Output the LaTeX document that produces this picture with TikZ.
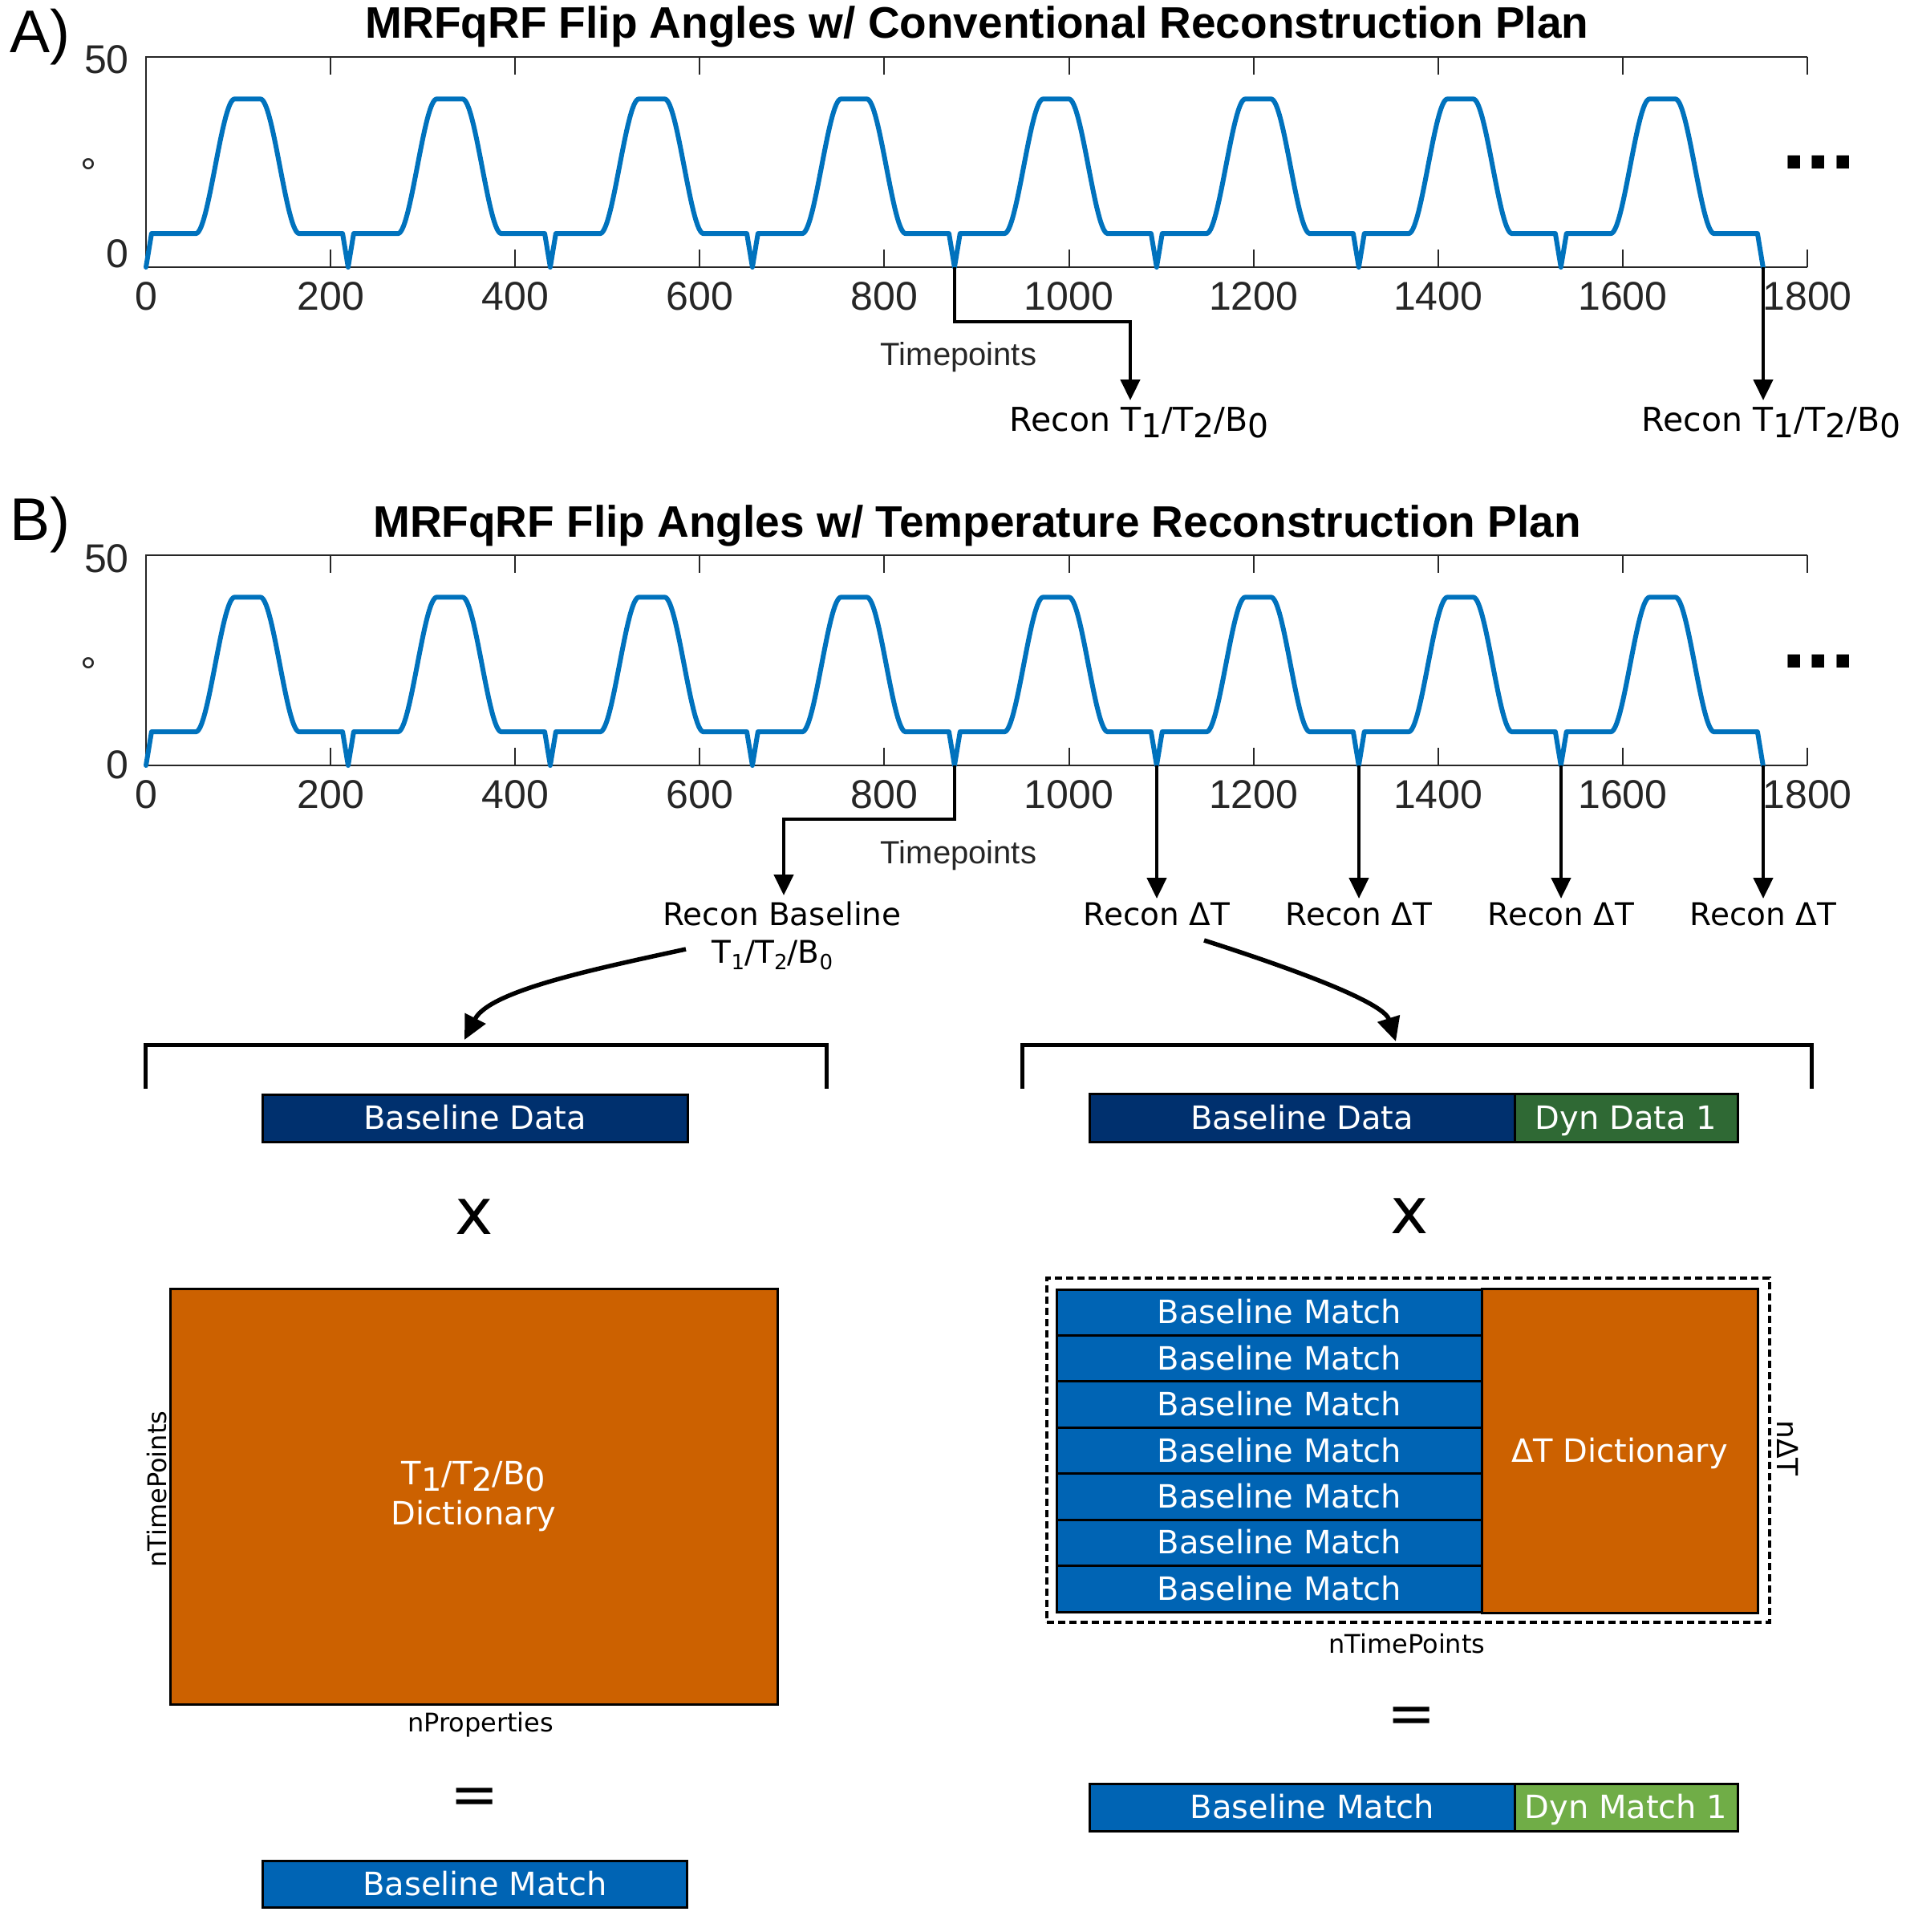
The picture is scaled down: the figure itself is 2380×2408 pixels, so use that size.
\documentclass[tikz,border=0pt]{standalone}
\usepackage{fontspec}
\usetikzlibrary{arrows.meta,calc}
\newfontfamily\matf{Liberation Sans}
\newfontfamily\verf{DejaVu Sans}
\definecolor{wblue}{HTML}{0072BD}
\definecolor{axgray}{HTML}{262626}
\definecolor{navyfill}{HTML}{00306E}
\definecolor{dgreenfill}{HTML}{2F6934}
\definecolor{lgreenfill}{HTML}{70AD47}
\definecolor{mbluefill}{HTML}{0064B4}
\definecolor{orangefill}{HTML}{CC6100}
\newcommand\lowsub[1]{\raisebox{-8pt}{#1}}
\newcommand\smallsub[1]{\raisebox{-8pt}{\fontsize{26}{26}\selectfont #1}}
\tikzset{
  declare function={sst(\x)=3*\x*\x-2*\x*\x*\x;
    wf(\u)=(\u<6)?(8*\u/6):((\u<54)?8:((\u<96)?(8+32*sst((\u-54)/42)):((\u<124)?40:((\u<166)?(40-32*sst((\u-124)/42)):((\u<213)?8:(8*(219-\u)/6))))));},
  axline/.style={draw=axgray, line width=2.5pt},
  axtick/.style={draw=axgray, line width=2pt},
  ticklab/.style={font=\matf\fontsize{50}{50}\selectfont, text=axgray, inner sep=0pt},
  titlef/.style={font=\matf\bfseries\fontsize{55}{55}\selectfont, inner sep=0pt},
  panlab/.style={font=\matf\fontsize{75}{75}\selectfont, inner sep=0pt},
  dotsf/.style={font=\matf\bfseries\fontsize{110}{110}\selectfont, inner sep=0pt},
  tplab/.style={font=\matf\fontsize{40}{40}\selectfont, text=axgray, inner sep=0pt},
  wave/.style={draw=wblue, line width=6pt, line join=round, line cap=round},
  conn/.style={draw=black, line width=4.5pt, -{Triangle[length=26pt,width=24pt]}},
  carrow/.style={draw=black, line width=5.5pt, -{Triangle[length=30pt,width=28pt]}},
  bracketline/.style={draw=black, line width=5pt},
  reconA/.style={font=\verf\fontsize{41}{41}\selectfont, inner sep=0pt, anchor=base},
  reconB/.style={font=\verf\fontsize{39}{39}\selectfont, inner sep=0pt, anchor=base},
  cell/.style={draw=black, line width=3pt, inner sep=0pt, text=white,
    font=\verf\fontsize{40}{48}\selectfont, text height=28pt, text depth=0pt},
  dimlab/.style={font=\verf\fontsize{32}{32}\selectfont, inner sep=0pt},
  opsym/.style={font=\verf\fontsize{80}{80}\selectfont, inner sep=0pt, anchor=base},
  dashbox/.style={draw=black, line width=4pt, dash pattern=on 9pt off 5pt, inner sep=0pt},
}
\newcommand\drawpanel[6]{%
  \begin{scope}[yshift=-#1pt]
    \foreach \k/\lab in {0/0,1/200,2/400,3/600,4/800,5/1000,6/1200,7/1400,8/1600,9/1800}{
      \draw[axtick] ({182+230.11*\k},71) -- ++(0,22);
      \draw[axtick] ({182+230.11*\k},333) -- ++(0,-22);
      \node[ticklab, anchor=base] (#2x\k) at ({182+230.11*\k},386) {\lab};
    }
    \draw[axline] (182,333) -- (182,71) -- (2253,71);
    \draw[axline] (182,333) -- (2253,333);
    \node[ticklab, anchor=base east] (#2ya) at (161,92) {50};
    \node[ticklab, anchor=base east] (#2yb) at (161,#3) {0};
    \node[ticklab, anchor=base] (#2deg) at (110,233) {°};
    \node[dotsf, anchor=base] (#2dots) at (2267,211) {...};
    \node[titlef, anchor=base] (#2title) at (1218,48) {#4};
    \node[panlab, anchor=base west] (#2lab) at (12,#6) {#5};
    \node[tplab, anchor=base] (#2tp) at (1195,455) {Timepoints};
    \draw[wave] plot[domain=0:1752, samples=1753, variable=\t] ({182+1.15056*\t}, {333-5.24*wf(mod(\t,219))});
  \end{scope}}
\begin{document}
\begin{tikzpicture}[x=1pt,y=-1pt]
\fill[white] (0,0) rectangle (2380,2408);
\useasboundingbox (0,0) rectangle (2380,2408);

% ---------- panel A ----------
\drawpanel{0}{pa}{333}{MRFqRF Flip Angles w/ Conventional Reconstruction Plan}{A)}{66}
\coordinate (dipA4) at (1190,333);
\coordinate (dipA8) at (2198,333);
\coordinate (tipA1) at (1409,499);
\coordinate (tipA2) at (2198,499);
\draw[conn] (dipA4) -- ++(0,68) -| (tipA1);
\draw[conn] (dipA8) -- (tipA2);
\node[reconA] (recA1) at (1420,537) {Recon T\lowsub{1}/T\lowsub{2}/B\lowsub{0}};
\node[reconA] (recA2) at (2208,537) {Recon T\lowsub{1}/T\lowsub{2}/B\lowsub{0}};

% ---------- panel B ----------
\drawpanel{621}{pb}{349}{MRFqRF Flip Angles w/ Temperature Reconstruction Plan}{B)}{52}
\coordinate (dipB4) at (1190,954);
\coordinate (dipB5) at (1442,954);
\coordinate (dipB6) at (1694,954);
\coordinate (dipB7) at (1946,954);
\coordinate (dipB8) at (2198,954);
\coordinate (tipB0) at (977,1116);
\draw[conn] (dipB4) -- ++(0,67) -| (tipB0);
\foreach \j in {5,6,7,8}{
  \coordinate (tipB\j) at ($(dipB\j)+(0,166)$);
  \draw[conn] (dipB\j) -- (tipB\j);
}
\node[reconB] (recB0) at (975,1153) {Recon Baseline};
\node[reconB] (recB0b) at (963,1200) {T\smallsub{1}/T\smallsub{2}/B\smallsub{0}};
\node[reconB] (recB5) at (1442,1153) {Recon ΔT};
\node[reconB] (recB6) at (1694,1153) {Recon ΔT};
\node[reconB] (recB7) at (1946,1153) {Recon ΔT};
\node[reconB] (recB8) at (2198,1153) {Recon ΔT};

% curved arrows and brackets
\coordinate (cbl0) at (855,1183);
\coordinate (brL) at (579,1296);
\coordinate (cbr0) at (1501,1172);
\coordinate (brR) at (1740,1298);
\draw[carrow] (cbl0) .. controls (740,1208) and (610,1235) .. (brL);
\draw[carrow] (cbr0) .. controls (1620,1210) and (1725,1250) .. (brR);
\draw[bracketline] (181,1357) -- (181,1302) -- (1030,1302) -- (1030,1357);
\draw[bracketline] (1274,1357) -- (1274,1302) -- (2258,1302) -- (2258,1357);

% ---------- left column ----------
\node[cell, fill=navyfill, minimum width=530pt, minimum height=59pt] (bdL) at (592,1393.5) {Baseline Data};
\node[opsym] (xL) at (591,1538) {x};
\node[cell, fill=orangefill, minimum width=757pt, minimum height=518pt, text height=, text depth=, align=center,
  font=\verf\fontsize{40}{50}\selectfont] (dictL) at (590.5,1865) {T\lowsub{1}/T\lowsub{2}/B\lowsub{0}\\Dictionary};
\node[dimlab, rotate=90] (ntpL) at (196,1856) {nTimePoints};
\node[dimlab, anchor=base] (nprop) at (599,2158) {nProperties};
\node[opsym, font=\verf\fontsize{72}{72}\selectfont] (eqL) at (592,2261) {=};
\node[cell, fill=mbluefill, minimum width=529pt, minimum height=58pt] (bmL) at (591.5,2348) {\hspace*{26pt}Baseline Match};

% ---------- right column ----------
\node[cell, fill=navyfill, minimum width=530pt, minimum height=60pt] (bdR) at (1623,1393) {Baseline Data};
\node[cell, fill=dgreenfill, minimum width=278pt, minimum height=60pt] (ddR) at (2027,1393) {Dyn Data 1};
\node[opsym] (xR) at (1757,1537) {x};
\node[dashbox, minimum width=901pt, minimum height=429pt] (dashR) at (1755.5,1807.5) {};
\foreach \i in {0,...,6}{
  \node[cell, fill=mbluefill, minimum width=530pt, minimum height=57.43pt] (row\i) at (1582,{1607+57.43*(\i+0.5)}) {\hspace*{26pt}Baseline Match};
}
\node[cell, fill=orangefill, minimum width=344pt, minimum height=404pt] (dictR) at (2019,1808) {ΔT Dictionary};
\node[dimlab, rotate=-90, font=\verf\fontsize{36}{36}\selectfont] (ndT) at (2229,1805) {nΔT};
\node[dimlab, anchor=base] (ntpR) at (1754,2060) {nTimePoints};
\node[opsym, font=\verf\fontsize{72}{72}\selectfont] (eqR) at (1760,2160) {=};
\node[cell, fill=mbluefill, minimum width=530pt, minimum height=59pt] (bmR) at (1623,2252.5) {\hspace*{26pt}Baseline Match};
\node[cell, fill=lgreenfill, minimum width=278pt, minimum height=59pt] (dmR) at (2027,2252.5) {Dyn Match 1};
\end{tikzpicture}
\end{document}
